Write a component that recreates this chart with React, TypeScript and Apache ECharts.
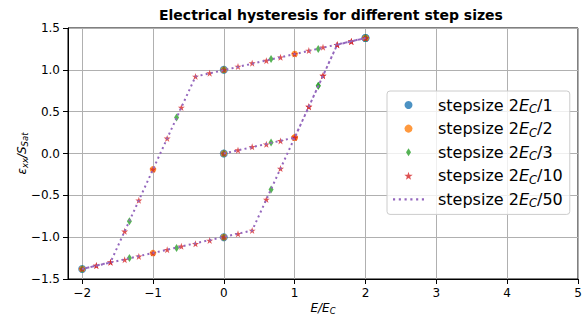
import React, { useEffect, useRef } from 'react';
import * as echarts from 'echarts';

// Stepsize 2E_C/1
const E1 = [0, 2, 0, -2, 0, 2];
const S1 = [0, 1.38, 1.0, -1.38, -1.0, 1.38];
// Stepsize 2E_C/2
const E2 = [0, 1, 2, 1, 0, -1, -2, -1, 0, 1, 2];
const S2 = [0, 0.19, 1.38, 1.19, 1.0, -0.19, -1.38, -1.19, -1.0, 0.19, 1.38];
// Stepsize 2E_C/3
const E3 = [0, 0.667, 1.333, 2, 1.333, 0.667, 0, -0.667, -1.333, -2, -1.333, -0.667, 0, 0.667, 1.333, 2];
const S3 = [0, 0.13, 0.81, 1.38, 1.25, 1.13, 1.0, 0.43, -0.81, -1.38, -1.25, -1.13, -1.0, -0.43, 0.81, 1.38];
// Stepsize 2E_C/10
const E10 = [
  0, 0.2, 0.4, 0.6, 0.8, 1.0, 1.2, 1.4, 1.6, 1.8, 2.0,
  1.8, 1.6, 1.4, 1.2, 1.0, 0.8, 0.6, 0.4, 0.2, 0, -0.2, -0.4, -0.6, -0.8, -1.0, -1.2, -1.4, -1.6, -1.8, -2.0,
  -1.8, -1.6, -1.4, -1.2, -1.0, -0.8, -0.6, -0.4, -0.2, 0, 0.2, 0.4, 0.6, 0.8, 1.0, 1.2, 1.4, 1.6, 1.8, 2.0,
];
const S10 = [
  0, 0.04, 0.08, 0.11, 0.15, 0.19, 0.56, 0.93, 1.30, 1.34, 1.38,
  1.34, 1.30, 1.27, 1.23, 1.19, 1.15, 1.11, 1.08, 1.04, 1.0, 0.96, 0.92, 0.55, 0.18, -0.19, -0.56, -0.93, -1.30, -1.34, -1.38,
  -1.34, -1.30, -1.27, -1.23, -1.19, -1.15, -1.11, -1.08, -1.04, -1.0, -0.96, -0.92, -0.55, -0.18, 0.19, 0.56, 0.93, 1.30, 1.34, 1.38,
];
// Stepsize 2E_C/50 (piecewise-linear path, corner points)
const E50 = [0, 1.0, 1.6, 2.0, -0.4, -1.6, -2.0, 0.4, 1.6, 2.0];
const S50 = [0, 0.19, 1.30, 1.38, 0.92, -1.30, -1.38, -0.92, 1.30, 1.38];

const X_TICKS = [-2, -1, 0, 1, 2, 3, 4, 5];
const NAMES = ['stepsize 2E_C/1', 'stepsize 2E_C/2', 'stepsize 2E_C/3', 'stepsize 2E_C/10', 'stepsize 2E_C/50'];

const FONT = 'DejaVu Sans';
const zip = (a: number[], b: number[]) => a.map((v, i) => [v, b[i]]);
const minus = (s: string) => s.replace('-', '\u2212');

const STAR = 'path://M0,-1L0.2245,-0.309L0.951,-0.309L0.363,0.118L0.588,0.809L0,0.382L-0.588,0.809L-0.363,0.118L-0.951,-0.309L-0.2245,-0.309Z';
const THIN_DIAMOND = 'path://M0,-1.6L1,0L0,1.6L-1,0Z';
const DOTTED_ICON = 'path://M0,0h2v2h-2zM5.4,0h2v2h-2zM10.8,0h2v2h-2zM16.2,0h2v2h-2zM21.6,0h2v2h-2zM27,0h2v2h-2z';

export default function App() {
  const ref = useRef<HTMLDivElement>(null);
  useEffect(() => {
    if (!ref.current) return;
    const chart = echarts.init(ref.current, null, { renderer: 'svg' });
    const option: any = {
      animation: false,
      backgroundColor: '#fff',
      title: {
        text: 'Electrical hysteresis for different step sizes',
        left: 154,
        top: 3,
        textStyle: { fontFamily: FONT, fontSize: 14, fontWeight: 'bold', color: '#000' },
      },
      grid: {
        left: 68, right: 9, top: 28, bottom: 36,
        outerBoundsMode: 'none', containLabel: false,
        show: true, borderColor: '#000', borderWidth: 1, backgroundColor: 'transparent',
      },
      xAxis: {
        type: 'value',
        min: -2.2,
        max: 5,
        splitNumber: 7,
        name: '{i|E/E}{s|C}',
        nameLocation: 'middle',
        nameGap: 22,
        nameMoveOverlap: false,
        nameTextStyle: {
          rich: {
            i: { fontFamily: FONT, fontSize: 12, fontStyle: 'italic', color: '#000', lineHeight: 14 },
            s: { fontFamily: FONT, fontSize: 8.5, fontStyle: 'italic', color: '#000', lineHeight: 6, verticalAlign: 'bottom' },
          },
        },
        axisLine: { show: true, onZero: false, lineStyle: { color: '#000', width: 1 } },
        axisTick: { show: true, length: 5, inside: false, customValues: X_TICKS, lineStyle: { color: '#000' } },
        axisLabel: {
          customValues: X_TICKS,
          margin: 8,
          fontFamily: FONT,
          fontSize: 12,
          color: '#000',
          formatter: (v: number) => minus(String(v)),
        },
        splitLine: { show: true, lineStyle: { color: '#b0b0b0', width: 1 } },
      },
      yAxis: {
        type: 'value',
        min: -1.5,
        max: 1.5,
        interval: 0.5,
        name: '{i|ε}{s|xx}{i|/S}{s|Sat}',
        nameLocation: 'middle',
        nameGap: 39,
        nameMoveOverlap: false,
        nameTextStyle: {
          rich: {
            i: { fontFamily: FONT, fontSize: 12, fontStyle: 'italic', color: '#000', lineHeight: 14 },
            s: { fontFamily: FONT, fontSize: 8.5, fontStyle: 'italic', color: '#000', lineHeight: 6, verticalAlign: 'bottom' },
          },
        },
        axisLine: { show: true, onZero: false, lineStyle: { color: '#000', width: 1 } },
        axisTick: { show: true, length: 5, inside: false, lineStyle: { color: '#000' } },
        axisLabel: {
          margin: 8,
          fontFamily: FONT,
          fontSize: 12,
          color: '#000',
          formatter: (v: number) => minus(v.toFixed(1)),
        },
        splitLine: { show: true, lineStyle: { color: '#b0b0b0', width: 1 } },
      },
      legend: {
        orient: 'vertical',
        left: 387,
        top: 91,
        padding: [6, 7, 5, 6],
        itemWidth: 31,
        itemHeight: 8,
        itemGap: 5.6,
        backgroundColor: 'rgba(255,255,255,0.8)',
        borderColor: '#cccccc',
        borderWidth: 1,
        borderRadius: 3,
        data: [
          { name: NAMES[0], icon: 'circle' },
          { name: NAMES[1], icon: 'circle' },
          { name: NAMES[2], icon: THIN_DIAMOND },
          { name: NAMES[3], icon: STAR },
          { name: NAMES[4], icon: DOTTED_ICON },
        ],
        formatter: (name: string) => {
          const n = name.split('/')[1];
          return `{gap| }{t|stepsize 2}{i|E}{s|C}{t|/${n}}`;
        },
        textStyle: {
          fontFamily: FONT,
          fontSize: 16,
          color: '#000',
          rich: {
            gap: { width: 9, fontSize: 16, lineHeight: 20 },
            t: { fontFamily: FONT, fontSize: 16, color: '#000', lineHeight: 20 },
            i: { fontFamily: FONT, fontSize: 16, fontStyle: 'italic', color: '#000', lineHeight: 20 },
            s: { fontFamily: FONT, fontSize: 11.5, fontStyle: 'italic', color: '#000', lineHeight: 8, verticalAlign: 'bottom' },
          },
        },
      },
      series: [
        {
          name: NAMES[0], type: 'scatter', data: zip(E1, S1), symbol: 'circle', symbolSize: 8,
          itemStyle: { color: '#1f77b4' },
        },
        {
          name: NAMES[1], type: 'scatter', data: zip(E2, S2), symbol: 'circle', symbolSize: 6.5,
          itemStyle: { color: '#ff7f0e' },
        },
        {
          name: NAMES[2], type: 'scatter', data: zip(E3, S3), symbol: THIN_DIAMOND, symbolSize: [5, 8],
          itemStyle: { color: '#2ca02c' },
        },
        {
          name: NAMES[3], type: 'scatter', data: zip(E10, S10), symbol: STAR, symbolSize: 7,
          itemStyle: { color: '#d62728' },
        },
        {
          name: NAMES[4], type: 'line', data: zip(E50, S50), showSymbol: false, symbol: 'none',
          itemStyle: { color: '#9467bd' },
          lineStyle: { color: '#9467bd', width: 2, type: [2, 3.3] },
        },
      ],
    };
    chart.setOption(option);
    return () => chart.dispose();
  }, []);
  return <div ref={ref} style={{ width: 587, height: 315, position: 'absolute', left: 0, top: 0 }} />;
}
